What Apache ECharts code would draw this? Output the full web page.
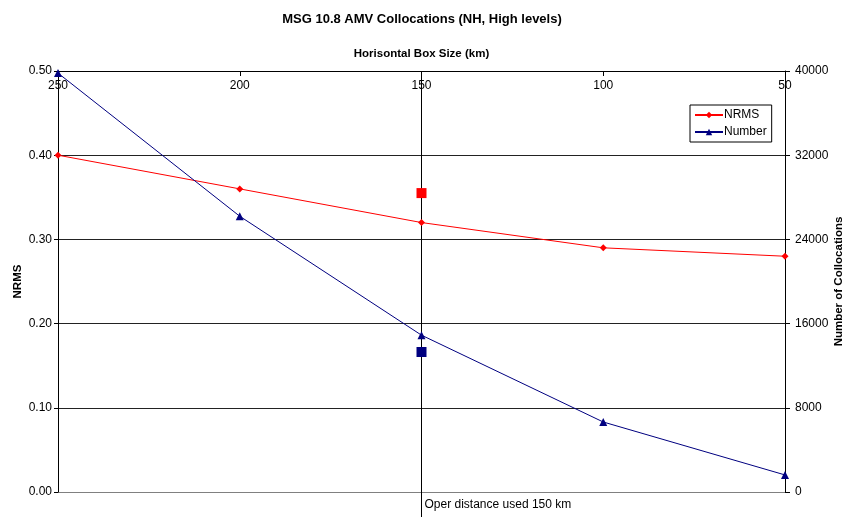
<!DOCTYPE html>
<html><head><meta charset="utf-8">
<script src="https://cdn.jsdelivr.net/npm/echarts@6/dist/echarts.min.js"></script>
<style>html,body{margin:0;padding:0;background:#fff;overflow:hidden}#c{width:844px;height:517px}</style>
</head><body><div id="c"></div>
<script>
const boxSizes = [250, 200, 150, 100, 50];
const nrmsValues = [0.40, 0.36, 0.32, 0.29, 0.28];
const numberValues = [39800, 26200, 14900, 6650, 1620];
const operBox = 150;
const operNrms = 0.355;
const operNumber = 13300;
const operLabel = 'Oper distance used 150 km';
const leftTicks = { min: 0, max: 0.5, interval: 0.1 };
const rightTicks = { min: 0, max: 40000, interval: 8000 };

const F = 'Liberation Sans, Arial, sans-serif';
const chart = echarts.init(document.getElementById('c'));
chart.setOption({
  animation: false,
  backgroundColor: '#fff',
  title: { text: 'MSG 10.8 AMV Collocations (NH, High levels)', left: 'center', top: 8,
    textStyle: { fontFamily: F, fontSize: 13, fontWeight: 'bold', color: '#000' } },
  legend: {
    data: ['NRMS', 'Number'], orient: 'vertical', left: 690, top: 105,
    backgroundColor: '#fff', borderColor: '#000', borderWidth: 1, padding: [4, 5, 4, 4],
    itemGap: 5, itemWidth: 28, itemHeight: 8,
    textStyle: { fontFamily: F, fontSize: 12, color: '#000', padding: [0, 0, 0, -4] }
  },
  grid: { left: 58, right: 59, top: 71, bottom: 25, outerBoundsMode: 'none', containLabel: false },
  xAxis: {
    type: 'value', position: 'top', inverse: true, min: 50, max: 250, interval: 50,
    name: 'Horisontal Box Size (km)', nameLocation: 'middle', nameGap: 11, nameMoveOverlap: false,
    nameTextStyle: { fontFamily: F, fontSize: 11.5, fontWeight: 'bold', color: '#000' },
    axisLine: { onZero: false, lineStyle: { color: '#000', width: 1 } },
    axisTick: { inside: true, length: 5, lineStyle: { color: '#000' } },
    axisLabel: { inside: true, margin: 9, fontFamily: F, fontSize: 12, color: '#000' },
    splitLine: { show: false }
  },
  yAxis: [
    {
      type: 'value', position: 'left', min: leftTicks.min, max: leftTicks.max, interval: leftTicks.interval,
      name: 'NRMS', nameLocation: 'middle', nameGap: 34, nameMoveOverlap: false,
      nameTextStyle: { fontFamily: F, fontSize: 11.5, fontWeight: 'bold', color: '#000' },
      axisLine: { show: true, onZero: false, lineStyle: { color: '#000' } },
      axisTick: { show: true, length: 4, lineStyle: { color: '#000' } },
      axisLabel: { margin: 6, fontFamily: F, fontSize: 12, color: '#000', formatter: v => v.toFixed(2) },
      splitLine: { show: true, lineStyle: { color: ['#808080', '#222', '#222', '#222', '#222', '#222'], width: 1 } }
    },
    {
      type: 'value', position: 'right', min: rightTicks.min, max: rightTicks.max, interval: rightTicks.interval,
      name: 'Number of Collocations', nameLocation: 'middle', nameGap: 48, nameMoveOverlap: false,
      nameTextStyle: { fontFamily: F, fontSize: 11.5, fontWeight: 'bold', color: '#000' },
      axisLine: { show: true, onZero: false, lineStyle: { color: '#000' } },
      axisTick: { show: true, length: 5, lineStyle: { color: '#000' } },
      axisLabel: { margin: 10, fontFamily: F, fontSize: 12, color: '#000', formatter: v => String(v) },
      splitLine: { show: false }
    }
  ],
  series: [
    {
      name: 'NRMS', type: 'line', yAxisIndex: 0,
      data: boxSizes.map((b, i) => [b, nrmsValues[i]]),
      symbol: 'diamond', symbolSize: 7, color: '#ff0000',
      lineStyle: { width: 1, color: '#ff0000' }, itemStyle: { color: '#ff0000' }, clip: false, z: 5
    },
    {
      name: 'Number', type: 'line', yAxisIndex: 1,
      data: boxSizes.map((b, i) => [b, numberValues[i]]),
      symbol: 'triangle', symbolSize: 8, color: '#000080',
      lineStyle: { width: 1, color: '#000080' }, itemStyle: { color: '#000080' }, clip: false, z: 5
    },
    {
      name: 'OperNrms', type: 'scatter', yAxisIndex: 0, data: [[operBox, operNrms]],
      symbol: 'rect', symbolSize: 10, itemStyle: { color: '#ff0000', opacity: 1 }, z: 6
    },
    {
      name: 'OperNumber', type: 'scatter', yAxisIndex: 1, data: [[operBox, operNumber]],
      symbol: 'rect', symbolSize: 10, itemStyle: { color: '#000080', opacity: 1 }, z: 6
    },
    {
      name: 'OperLine', type: 'custom', yAxisIndex: 0, clip: false, silent: true, z: 4,
      data: [[operBox]],
      renderItem: function (params, api) {
        const x = api.value(0);
        const top = api.coord([x, leftTicks.max]);
        const bot = api.coord([x, -0.03]);
        const lab = api.coord([x, -0.015]);
        return {
          type: 'group', children: [
            { type: 'line', shape: { x1: top[0], y1: top[1], x2: bot[0], y2: bot[1] },
              style: { stroke: '#000', lineWidth: 1 } },
            { type: 'text', x: lab[0] + 3, y: lab[1],
              style: { text: operLabel, fill: '#000', font: '12px ' + F, verticalAlign: 'middle' } }
          ]
        };
      }
    }
  ]
});
</script></body></html>
